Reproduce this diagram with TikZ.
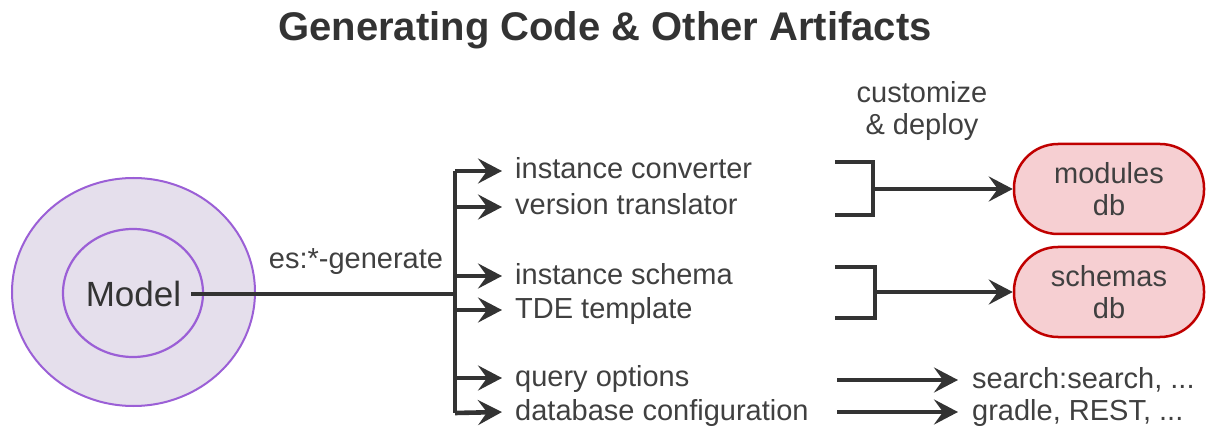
\documentclass[tikz,border=0pt]{standalone}
\usepackage{fontspec}
\setmainfont{Liberation Sans}
\usetikzlibrary{arrows.meta}

\definecolor{linegray}{HTML}{333333}
\definecolor{textgray}{HTML}{404040}
\definecolor{modelfill}{HTML}{E5DFEC}
\definecolor{modeledge}{HTML}{9B5FD6}
\definecolor{dbfill}{HTML}{F6CFD2}
\definecolor{dbedge}{HTML}{C00000}

\begin{document}
\begin{tikzpicture}[x=1pt,y=-1pt,
    txt/.style={text=textgray,font=\fontsize{29}{32}\selectfont},
    item/.style={txt,anchor=west,inner xsep=13pt,inner ysep=0pt,
      text height=22pt,text depth=6pt},
    conn/.style={draw=linegray,line width=4.6pt},
    arr/.style={conn,-{Stealth[length=24pt,width=25pt,inset=9pt]}},
    dbbox/.style={txt,draw=dbedge,fill=dbfill,line width=2.5pt,
      rounded corners=44pt,minimum width=190pt,minimum height=90pt,
      align=center}]
  \useasboundingbox (0,0) rectangle (1207,430);
  % \draw (0,0) rectangle (1207,430);

  \node[text=linegray,font=\fontsize{40}{44}\selectfont\bfseries] (title)
    at (605,30) {Generating Code \& Other Artifacts};

  % model
  \draw[modeledge,fill=modelfill,line width=2pt] (133.5,292) ellipse (121.5 and 114);
  \draw[modeledge,line width=2.2pt] (133,293) ellipse (70 and 64);
  \node[text=linegray,font=\fontsize{35}{38}\selectfont,inner xsep=10pt,
    text height=25pt,text depth=0pt] (model) at (133.5,294) {Model};

  % bus
  \coordinate (bus) at (455,294);
  \coordinate (top) at (455,171);
  \coordinate (bot) at (455,413);
  \draw[conn] (model.east) -- (bus);
  \draw[conn] (top) -- (bot);
  \node[txt] (gen) at (356,262) {es:*-generate};

  \node[item] (ic) at (502,171) {instance converter};
  \node[item] (vt) at (502,207) {version translator};
  \node[item] (is) at (502,276) {instance schema};
  \node[item] (tde) at (502,310) {TDE template};
  \node[item] (qo) at (502,378) {query options};
  \node[item] (dc) at (502,412) {database configuration};

  \draw[arr] (top) -- (ic.west);
  \draw[arr] (455,207) -- (vt.west);
  \draw[arr] (455,276) -- (is.west);
  \draw[arr] (455,310) -- (tde.west);
  \draw[arr] (455,378) -- (qo.west);
  \draw[arr] (bot) -- (dc.west);

  % deploy
  \node[txt,align=center] (deploy) at (922,111) {customize\\\& deploy};
  \node[dbbox] (mod) at (1109,189) {modules\\db};
  \node[dbbox] (sch) at (1109,292) {schemas\\db};

  \draw[conn] (835,162) -- (873,162) -- (873,215) -- (835,215);
  \coordinate (modb) at (873,189);
  \draw[arr] (modb) -- (mod.west);
  \draw[conn] (835,267) -- (875,267) -- (875,318) -- (835,318);
  \coordinate (schb) at (875,292);
  \draw[arr] (schb) -- (sch.west);

  % other
  \coordinate (qoa) at (837,380);
  \coordinate (dca) at (837,412);
  \node[item,inner xsep=0pt] (srch) at (972,380) {search:search, ...};
  \node[item,inner xsep=0pt] (grd) at (972,412) {gradle, REST, ...};
  \draw[arr,shorten >=14pt] (qoa) -- (srch.west);
  \draw[arr,shorten >=14pt] (dca) -- (grd.west);
\end{tikzpicture}
\end{document}
